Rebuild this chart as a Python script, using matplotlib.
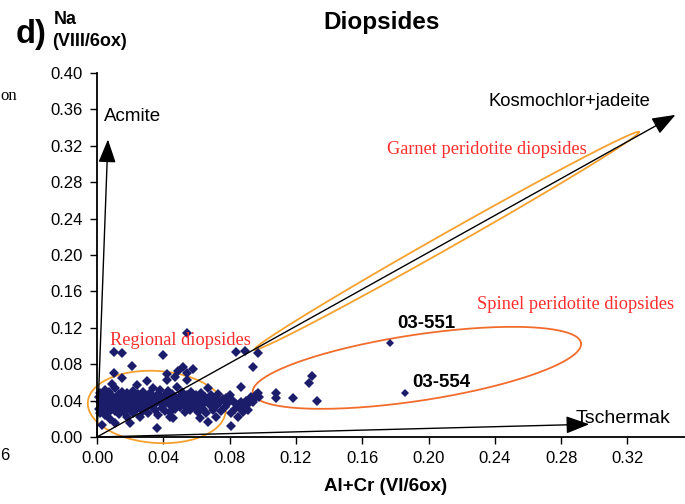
import numpy as np
import matplotlib
matplotlib.use('Agg')
import matplotlib.pyplot as plt

# Al+Cr (VI/6ox) vs Na (VIII/6ox) for diopsides
regional_x = [0.001, 0.001, 0.002, 0.002, 0.002, 0.003, 0.003, 0.003, 0.004, 0.004,
              0.004, 0.005, 0.005, 0.005, 0.006, 0.006, 0.007, 0.007, 0.007, 0.008,
              0.008, 0.008, 0.009, 0.009, 0.009, 0.010, 0.010, 0.010, 0.011, 0.011,
              0.011, 0.012, 0.012, 0.013, 0.013, 0.013, 0.014, 0.014, 0.015, 0.015,
              0.015, 0.015, 0.016, 0.016, 0.017, 0.017, 0.018, 0.018, 0.019, 0.019,
              0.020, 0.020, 0.020,
              0.021, 0.021, 0.021, 0.022, 0.022, 0.023, 0.023, 0.024, 0.024, 0.025,
              0.025, 0.026, 0.026, 0.027, 0.027, 0.028, 0.028, 0.029, 0.029, 0.030,
              0.030, 0.031, 0.031, 0.032, 0.032, 0.033, 0.033, 0.034, 0.034, 0.035,
              0.035, 0.036, 0.036, 0.037, 0.037, 0.038, 0.038, 0.039, 0.039, 0.040,
              0.040, 0.040,
              0.041, 0.041, 0.042, 0.042, 0.042, 0.043, 0.043, 0.044, 0.044, 0.044,
              0.045, 0.045, 0.046, 0.046, 0.047, 0.047, 0.047, 0.048, 0.048, 0.049,
              0.049, 0.050, 0.050, 0.051, 0.051, 0.052, 0.052, 0.053, 0.053, 0.054,
              0.054, 0.054, 0.054, 0.055, 0.056, 0.056, 0.057, 0.057, 0.058, 0.058,
              0.059, 0.060, 0.060,
              0.061, 0.061, 0.062, 0.062, 0.063, 0.063, 0.064, 0.065, 0.065, 0.066,
              0.067, 0.067, 0.067, 0.068, 0.069, 0.070, 0.070, 0.071, 0.072, 0.072,
              0.073, 0.074, 0.075, 0.076, 0.077, 0.078, 0.079, 0.080, 0.081, 0.081,
              0.082, 0.083, 0.084, 0.084, 0.085, 0.086, 0.087, 0.087, 0.088, 0.089,
              0.089, 0.090, 0.091, 0.092, 0.093, 0.094, 0.094, 0.095, 0.096, 0.097,
              0.097, 0.098]
regional_y = [0.031, 0.044, 0.026, 0.038, 0.048, 0.034, 0.041, 0.013, 0.029, 0.046,
              0.036, 0.052, 0.040, 0.024, 0.033, 0.043, 0.037, 0.028, 0.050, 0.041,
              0.032, 0.020, 0.045, 0.035, 0.058, 0.039, 0.093, 0.070, 0.029, 0.054,
              0.015, 0.043, 0.034, 0.047, 0.038, 0.025, 0.041, 0.031, 0.092, 0.065,
              0.036, 0.050, 0.044, 0.027, 0.039, 0.033, 0.048, 0.022, 0.042, 0.036,
              0.015, 0.030, 0.046,
              0.078, 0.040, 0.034, 0.051, 0.026, 0.044, 0.037, 0.031, 0.057, 0.041,
              0.047, 0.035, 0.022, 0.043, 0.038, 0.050, 0.029, 0.040, 0.034, 0.045,
              0.062, 0.037, 0.026, 0.042, 0.048, 0.033, 0.039, 0.054, 0.044, 0.030,
              0.036, 0.010, 0.041, 0.047, 0.024, 0.038, 0.052, 0.043, 0.032, 0.090,
              0.040, 0.035,
              0.046, 0.029, 0.069, 0.063, 0.038, 0.043, 0.051, 0.022, 0.028, 0.035,
              0.041, 0.047, 0.021, 0.037, 0.066, 0.044, 0.031, 0.040, 0.055, 0.072,
              0.036, 0.033, 0.045, 0.039, 0.049, 0.077, 0.042, 0.034, 0.027, 0.114,
              0.070, 0.063, 0.046, 0.038, 0.043, 0.030, 0.050, 0.036, 0.075, 0.041,
              0.033, 0.046, 0.039,
              0.028, 0.043, 0.021, 0.036, 0.048, 0.040, 0.031, 0.044, 0.038, 0.026,
              0.054, 0.017, 0.041, 0.035, 0.046, 0.030, 0.039, 0.043, 0.022, 0.034,
              0.047, 0.038, 0.029, 0.042, 0.033, 0.043, 0.037, 0.046, 0.012, 0.026,
              0.040, 0.031, 0.093, 0.036, 0.022, 0.032, 0.055, 0.038, 0.028, 0.095,
              0.034, 0.040, 0.030, 0.037, 0.044, 0.077, 0.039, 0.042, 0.046, 0.092,
              0.048, 0.044]

spinel_x = [0.108, 0.108, 0.118, 0.128, 0.130, 0.133]
spinel_y = [0.048, 0.043, 0.043, 0.059, 0.067, 0.040]

sample_names = ['03-551', '03-554']
sample_x = [0.177, 0.186]
sample_y = [0.103, 0.048]

x_ticks = [0.00, 0.04, 0.08, 0.12, 0.16, 0.20, 0.24, 0.28, 0.32]
y_ticks = [0.00, 0.04, 0.08, 0.12, 0.16, 0.20, 0.24, 0.28, 0.32, 0.36, 0.40]

# end members (arrow tips from origin)
end_names = ['Acmite', 'Kosmochlor+jadeite', 'Tschermak']
end_x = [0.0066, 0.349, 0.297]
end_y = [0.327, 0.354, 0.014]

sans = ['Liberation Sans', 'DejaVu Sans']
narrow = ['Liberation Sans Narrow', 'Liberation Sans', 'DejaVu Sans']
serif = ['Liberation Serif', 'DejaVu Serif']
navy = '#1b1d6b'
red_txt = '#ff2d2d'
orange = '#f6a12e'
orange2 = '#f26c2c'

fig = plt.figure(figsize=(6.85, 5.04), dpi=100)
ax = fig.add_axes([97 / 685, 1 - 437 / 504, 1 - 97 / 685, (437 - 73) / 504])
ax.set_xlim(0, (685 - 97) * 0.04 / 66.3)
ax.set_ylim(0, 0.40)

for s in ['top', 'right']:
    ax.spines[s].set_visible(False)
for s in ['left', 'bottom']:
    ax.spines[s].set_linewidth(1.3)

ax.set_xticks(x_ticks)
ax.set_yticks(y_ticks)
ax.set_xticklabels(['%.2f' % v for v in x_ticks], family=narrow, fontsize=12)
ax.set_yticklabels(['%.2f' % v for v in y_ticks], family=narrow, fontsize=12)
ax.tick_params(direction='out', length=5, width=1, pad=5)


def ellipse(cx, cy, a, b, ang):
    # a, b in pixels, angle in degrees (display space)
    cpx = ax.transData.transform((cx, cy))
    t = np.linspace(0, 2 * np.pi, 300)
    th = np.radians(ang)
    px = cpx[0] + a * np.cos(t) * np.cos(th) - b * np.sin(t) * np.sin(th)
    py = cpx[1] + a * np.cos(t) * np.sin(th) + b * np.sin(t) * np.cos(th)
    return ax.transData.inverted().transform(np.column_stack([px, py]))


# arrows from origin
for i in range(len(end_names)):
    ax.annotate('', xy=(end_x[i], end_y[i]), xytext=(0, 0),
                arrowprops=dict(arrowstyle='-|>,head_length=0.8,head_width=0.3',
                                mutation_scale=18, color='black', lw=1.0,
                                shrinkA=0, shrinkB=0),
                annotation_clip=False)

# regions
e = ellipse(0.036, 0.033, 69, 36, -4)
ax.plot(e[:, 0], e[:, 1], color=orange, lw=1.3, clip_on=False)
e = ellipse(0.211, 0.2156, 221, 7.5, 29.5)
ax.plot(e[:, 0], e[:, 1], color=orange, lw=1.3, clip_on=False)
e = ellipse(0.193, 0.076, 166, 33, 8.6)
ax.plot(e[:, 0], e[:, 1], color=orange2, lw=1.3, clip_on=False)

ax.plot(regional_x, regional_y, 'D', color=navy, ms=5, mew=0, clip_on=False)
ax.plot(spinel_x, spinel_y, 'D', color=navy, ms=5, mew=0)
ax.plot(sample_x, sample_y, 'D', color=navy, ms=4.5, mew=0)

ax.text(0.0045, 0.352, end_names[0], family=sans, fontsize=13.5, va='center')
ax.text(0.236, 0.369, end_names[1], family=sans, fontsize=13.2, va='center')
ax.text(0.289, 0.020, end_names[2], family=sans, fontsize=14, va='center')

ax.text(0.175, 0.316, 'Garnet peridotite diopsides', family=serif, fontsize=13.2,
        color=red_txt, va='center')
ax.text(0.229, 0.146, 'Spinel peridotite diopsides', family=serif, fontsize=13.2,
        color=red_txt, va='center')
ax.text(0.008, 0.106, 'Regional diopsides', family=serif, fontsize=13.2,
        color=red_txt, va='center')

ax.text(0.181, 0.125, sample_names[0], family=sans, fontsize=13.5, weight='bold', va='center')
ax.text(0.190, 0.060, sample_names[1], family=sans, fontsize=13.5, weight='bold', va='center')

ax.set_xlabel('Al+Cr (VI/6ox)', family=sans, fontsize=13.5, weight='bold')
ax.xaxis.set_label_coords((386 - 97) / 588, -(478 - 437) / 364)

fig.text(382 / 685, 1 - 22 / 504, 'Diopsides', family=sans, fontsize=17.5, weight='bold',
         ha='center', va='center')
fig.text(16 / 685, 1 - 35 / 504, 'd)', family=sans, fontsize=23.5, weight='bold',
         ha='left', va='center')
fig.text(54 / 685, 1 - 20 / 504, 'Na', family=sans, fontsize=13, weight='bold',
         ha='left', va='center')
fig.text(52 / 685, 1 - 42 / 504, '(VIII/6ox)', family=sans, fontsize=13, weight='bold',
         ha='left', va='center')

# edge of the neighbouring panel
fig.text(0.5 / 685, 1 - 96 / 504, 'on', family=serif, fontsize=12, ha='left', va='center')
fig.text(9 / 685, 1 - 455 / 504, '6', family=narrow, fontsize=12, ha='right', va='center')

fig.savefig('out.png', dpi=100)
